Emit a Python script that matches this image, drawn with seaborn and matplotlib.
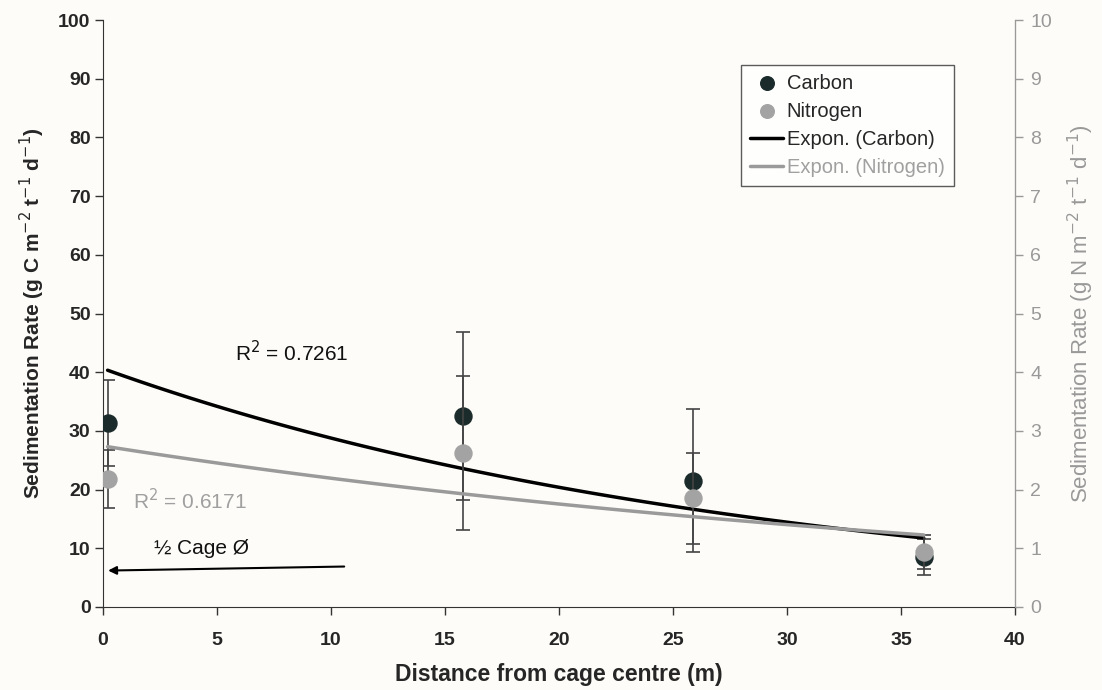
import numpy as np
import pandas as pd
import matplotlib
matplotlib.use("Agg")
import matplotlib.pyplot as plt
import seaborn as sns

# distance from cage centre (m)
distance = [0.2, 15.8, 25.9, 36.0]
# carbon sedimentation (g C m-2 t-1 d-1)
carbon = [31.3, 32.5, 21.5, 8.5]
carbon_err = [7.3, 14.3, 12.2, 3.0]
# nitrogen sedimentation (g N m-2 t-1 d-1)
nitrogen = [2.18, 2.62, 1.85, 0.94]
nitrogen_err = [0.49, 1.31, 0.78, 0.29]

r2_carbon = "0.7261"
r2_nitrogen = "0.6171"

sns.set_style("ticks")
plt.rcParams['font.family'] = ['Liberation Sans', 'DejaVu Sans']

df = pd.DataFrame({"x": distance, "C": carbon, "N": nitrogen})

# exponential trendlines, Excel-style fit on log(y)
bc, ac = np.polyfit(df.x, np.log(df.C), 1)
bn, an = np.polyfit(df.x, np.log(df.N), 1)
xs = np.linspace(distance[0], distance[-1], 100)
trend = pd.DataFrame({"x": xs, "C": np.exp(ac + bc * xs), "N": np.exp(an + bn * xs)})

fig = plt.figure(figsize=(11.02, 6.9), dpi=100)
fig.patch.set_facecolor("#fdfcf8")
ax = fig.add_axes([0.0935, 0.1203, 0.8275, 0.8507])
ax.set_facecolor("#fdfcf8")
ax2 = ax.twinx()

dark = "#1b2b2b"
grey = "#a3a3a3"

ax.errorbar(distance, carbon, yerr=carbon_err, fmt="none", ecolor="#444444",
            elinewidth=1.2, capsize=5, capthick=1.2, zorder=2)
sns.lineplot(data=trend, x="x", y="C", ax=ax, color="black", lw=2.5, zorder=3,
             label="Expon. (Carbon)", legend=False)
sns.scatterplot(data=df, x="x", y="C", ax=ax, color=dark, s=150, edgecolor=dark,
                zorder=4, label="Carbon", legend=False)

ax2.errorbar(distance, nitrogen, yerr=nitrogen_err, fmt="none", ecolor="#444444",
             elinewidth=1.2, capsize=5, capthick=1.2, zorder=2)
sns.lineplot(data=trend, x="x", y="N", ax=ax2, color="#9a9a9a", lw=2.5, zorder=3,
             label="Expon. (Nitrogen)", legend=False)
sns.scatterplot(data=df, x="x", y="N", ax=ax2, color=grey, s=150, edgecolor=grey,
                zorder=4, label="Nitrogen", legend=False)

ax.set_xlim(0, 40)
ax.set_ylim(0, 100)
ax2.set_ylim(0, 10)
ax.set_xticks(range(0, 41, 5))
ax.set_yticks(range(0, 101, 10))
ax2.set_yticks(range(0, 11, 1))

for lab in ax.get_xticklabels() + ax.get_yticklabels():
    lab.set_fontweight("bold")
ax.tick_params(axis="x", labelsize=14, length=6, width=1, color="#333333", pad=12)
ax.tick_params(axis="y", labelsize=14, length=6, width=1, color="#333333", pad=3)
ax2.tick_params(axis="y", labelsize=14, length=6, width=1, colors="#999999", pad=5)

ax.set_xlabel("Distance from cage centre (m)", fontsize=16.5, fontweight="bold", labelpad=10)
ax.set_ylabel("Sedimentation Rate (g C m$^{-2}$ t$^{-1}$ d$^{-1}$)", fontsize=15,
              fontweight="bold", labelpad=8)
ax2.set_ylabel("Sedimentation Rate (g N m$^{-2}$ t$^{-1}$ d$^{-1}$)", fontsize=16,
               color="#999999", labelpad=10)

ax.spines["top"].set_visible(False)
ax2.spines["top"].set_visible(False)
ax.spines["left"].set_color("#333333")
ax.spines["bottom"].set_color("#333333")
ax2.spines["right"].set_color("#999999")
ax2.spines["left"].set_visible(False)
ax2.spines["bottom"].set_visible(False)

ax.text(5.8, 43.4, "R$^2$ = " + r2_carbon, fontsize=15, color="#111111", va="center")
ax2.text(1.3, 1.82, "R$^2$ = " + r2_nitrogen, fontsize=15, color="#a0a0a0", va="center")

ax.annotate("", xy=(0.1, 6.2), xytext=(10.7, 6.9),
            arrowprops=dict(arrowstyle="-|>", color="black", lw=1.5, mutation_scale=12))
ax.text(4.3, 9.9, "½ Cage Ø", fontsize=15, color="#111111", ha="center", va="center")

h1, l1 = ax.get_legend_handles_labels()
h2, l2 = ax2.get_legend_handles_labels()
handles = [h1[1], h2[1], h1[0], h2[0]]
labels = [l1[1], l2[1], l1[0], l2[0]]
leg = ax2.legend(handles, labels, loc="upper left", bbox_to_anchor=(0.70, 0.924),
                 fontsize=14.5, frameon=True, fancybox=False, edgecolor="#333333",
                 handlelength=1.6, handletextpad=0.2, borderpad=0.45, labelspacing=0.45,
                 borderaxespad=0, markerscale=0.8)
leg.get_frame().set_linewidth(1)
leg.get_frame().set_facecolor("white")
leg.get_texts()[3].set_color("#a0a0a0")

fig.savefig("out.png", dpi=100, facecolor=fig.get_facecolor())
